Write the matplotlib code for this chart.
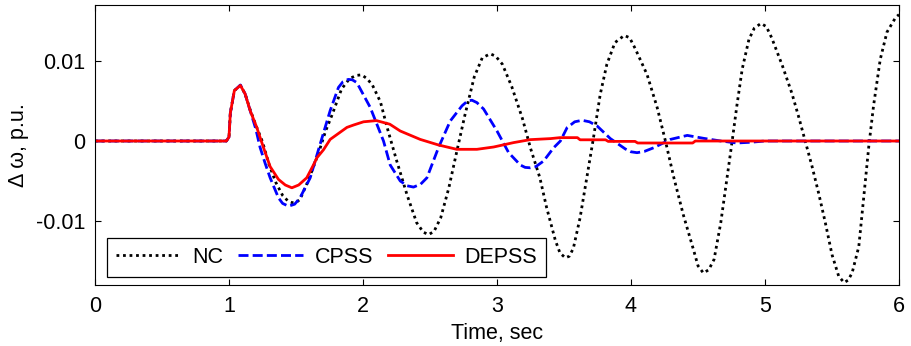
import numpy as np
import matplotlib
matplotlib.use("Agg")
import matplotlib.pyplot as plt

# Speed deviation responses (values in 1e-3 p.u.)
t_nc = [0, 0.98, 1.0, 1.01, 1.04, 1.085, 1.12, 1.158, 1.2, 1.25, 1.3, 1.35, 1.40, 1.44,
        1.47, 1.50, 1.53, 1.59, 1.64, 1.68, 1.72, 1.77, 1.84, 1.90, 1.95, 1.99, 2.03,
        2.07, 2.13, 2.18, 2.25, 2.33, 2.40, 2.45, 2.49, 2.53, 2.58, 2.64, 2.70, 2.76,
        2.83, 2.89, 2.95, 2.99, 3.04, 3.11, 3.19, 3.25, 3.32, 3.37, 3.435, 3.47, 3.51,
        3.54, 3.57, 3.62, 3.67, 3.72, 3.77, 3.82, 3.88, 3.95, 3.99, 4.03, 4.12, 4.195,
        4.257, 4.32, 4.39, 4.47, 4.50, 4.54, 4.58, 4.62, 4.67, 4.705, 4.755, 4.79,
        4.83, 4.88, 4.92, 4.97, 5.01, 5.05, 5.13, 5.20, 5.25, 5.30, 5.35, 5.40, 5.45,
        5.50, 5.55, 5.59, 5.62, 5.65, 5.70, 5.74, 5.775, 5.81, 5.86, 5.91, 5.975, 6.0]
dw_nc = [0, 0, 0.5, 3.5, 6.3, 6.95, 5.9, 3.9, 2.0, -0.1, -3.0, -5.2, -6.8, -7.5,
         -7.7, -7.7, -7.3, -5.0, -2.8, -0.9, 1.2, 3.3, 6.5, 7.8, 8.2, 8.27, 7.8,
         7.0, 4.9, 1.7, -2.4, -6.8, -10.2, -11.4, -11.7, -11.3, -9.6, -5.9, -1.3, 3.2,
         8.0, 10.4, 10.9, 10.6, 9.6, 6.8, 2.8, -0.9, -4.6, -8.3, -12.4, -14.0, -14.6,
         -14.4, -13.4, -9.6, -4.6, 0.4, 5.8, 9.6, 12.3, 13.2, 12.9, 11.6, 8.3, 4.2,
         0.0, -4.6, -9.2, -13.8, -15.6, -16.5, -16.1, -14.8, -10.2, -6.0, 0.0, 4.4,
         9.0, 12.7, 14.1, 14.7, 14.3, 12.9, 9.4, 6.0, 3.1, 0.0, -3.1, -6.5, -10.2,
         -14.2, -16.9, -17.7, -17.4, -16.5, -13.2, -6.5, -0.6, 4.4, 10.2, 13.6, 15.45, 15.8]

t_cpss = [0, 0.98, 1.0, 1.01, 1.04, 1.085, 1.12, 1.158, 1.2, 1.232, 1.27, 1.307, 1.369,
          1.40, 1.444, 1.49, 1.53, 1.606, 1.68, 1.755, 1.817, 1.85, 1.89, 1.92, 1.954,
          2.054, 2.153, 2.203, 2.278, 2.33, 2.377, 2.43, 2.477, 2.564, 2.651, 2.739,
          2.78, 2.813, 2.85, 2.9, 3.0, 3.087, 3.174, 3.21, 3.249, 3.29, 3.348, 3.423,
          3.473, 3.523, 3.58, 3.635, 3.69, 3.747, 3.846, 3.958, 4.0, 4.045, 4.1, 4.17,
          4.294, 4.42, 4.543, 4.67, 4.79, 4.9, 5.0, 6.0]
dw_cpss = [0, 0, 0.5, 3.5, 6.3, 7.0, 5.9, 3.8, 1.5, -0.8, -2.8, -4.6, -7.1,
           -7.8, -8.15, -7.9, -7.1, -4.6, -0.4, 3.8, 6.7, 7.4, 7.7, 7.65, 7.3,
           4.2, 0.0, -3.0, -5.0, -5.6, -5.76, -5.4, -4.6, -0.8, 2.5, 4.4,
           5.0, 5.1, 4.8, 4.0, 1.25, -1.46, -3.0, -3.3, -3.35, -3.2, -2.5, -0.84,
           0.0, 1.67, 2.4, 2.59, 2.4, 1.88, 0.3, -1.0, -1.35, -1.46, -1.3, -0.84,
           0.2, 0.7, 0.33, 0.0, -0.25, -0.15, 0.0, 0.0]

t_depss = [0, 0.98, 1.0, 1.01, 1.04, 1.085, 1.12, 1.158, 1.207, 1.257, 1.307, 1.369,
           1.42, 1.469, 1.52, 1.58, 1.63, 1.656, 1.705, 1.755, 1.805, 1.88, 1.93,
           2.004, 2.10, 2.20, 2.278, 2.427, 2.564, 2.70, 2.85, 2.975, 3.124, 3.249,
           3.40, 3.47, 3.60, 3.62, 3.81, 3.83, 4.03, 4.05, 4.46, 4.48, 6.0]
dw_depss = [0, 0, 0.5, 3.5, 6.3, 6.95, 5.9, 3.8, 1.7, -0.8, -3.2, -4.8,
            -5.5, -5.85, -5.5, -4.6, -3.0, -2.1, -1.1, 0.2, 0.8, 1.7, 2.0,
            2.4, 2.55, 2.1, 1.25, 0.2, -0.5, -1.04, -1.04, -0.75, -0.2, 0.17,
            0.3, 0.42, 0.42, 0.15, 0.15, -0.05, -0.05, -0.25, -0.25, 0.0, 0.0]

series_names = ["NC", "CPSS", "DEPSS"]
x_ticks = [0, 1, 2, 3, 4, 5, 6]
y_ticks = [-0.01, 0, 0.01]
y_tick_labels = ["-0.01", "0", "0.01"]

FS = 15.5
plt.rcParams["font.family"] = ["Liberation Sans", "DejaVu Sans"]
plt.rcParams["font.size"] = FS

fig = plt.figure(figsize=(9.12, 3.46), dpi=100)
ax = fig.add_axes([95 / 912, 1 - 285 / 346, 804 / 912, 280 / 346])

scale = 1e-3
ax.plot(t_nc, np.array(dw_nc) * scale, color="black", lw=2.0,
        linestyle=(0, (1, 1.35)), dash_capstyle="butt", label=series_names[0])
ax.plot(t_cpss, np.array(dw_cpss) * scale, color=(0, 0, 1), lw=2.0,
        linestyle=(0, (3.6, 1.5)), dash_capstyle="butt", label=series_names[1])
ax.plot(t_depss, np.array(dw_depss) * scale, color=(1, 0, 0), lw=2.0,
        label=series_names[2])

ax.set_xlim(0, 6)
ax.set_ylim(-0.018, 0.017)
ax.set_xticks(x_ticks)
ax.set_xticklabels([str(v) for v in x_ticks])
ax.set_yticks(y_ticks)
ax.set_yticklabels(y_tick_labels)
ax.tick_params(direction="in", top=True, right=True, length=4, width=0.8,
               labelsize=FS)
ax.tick_params(axis="x", pad=8)
ax.tick_params(axis="y", pad=7)
for s in ax.spines.values():
    s.set_linewidth(0.8)

ax.set_xlabel("Time, sec", fontsize=FS, labelpad=4)
ax.set_ylabel("\u0394 \u03c9, p.u.", fontsize=FS, labelpad=5)

leg = ax.legend(loc="lower left", bbox_to_anchor=(0.0146, 0.0296), ncol=3,
                frameon=True, fancybox=False, edgecolor="black", framealpha=1,
                borderaxespad=0, handlelength=3.0, handletextpad=0.55,
                columnspacing=0.7, borderpad=0.42, fontsize=FS)
leg.get_frame().set_linewidth(0.9)

fig.savefig("out.png", dpi=100)
